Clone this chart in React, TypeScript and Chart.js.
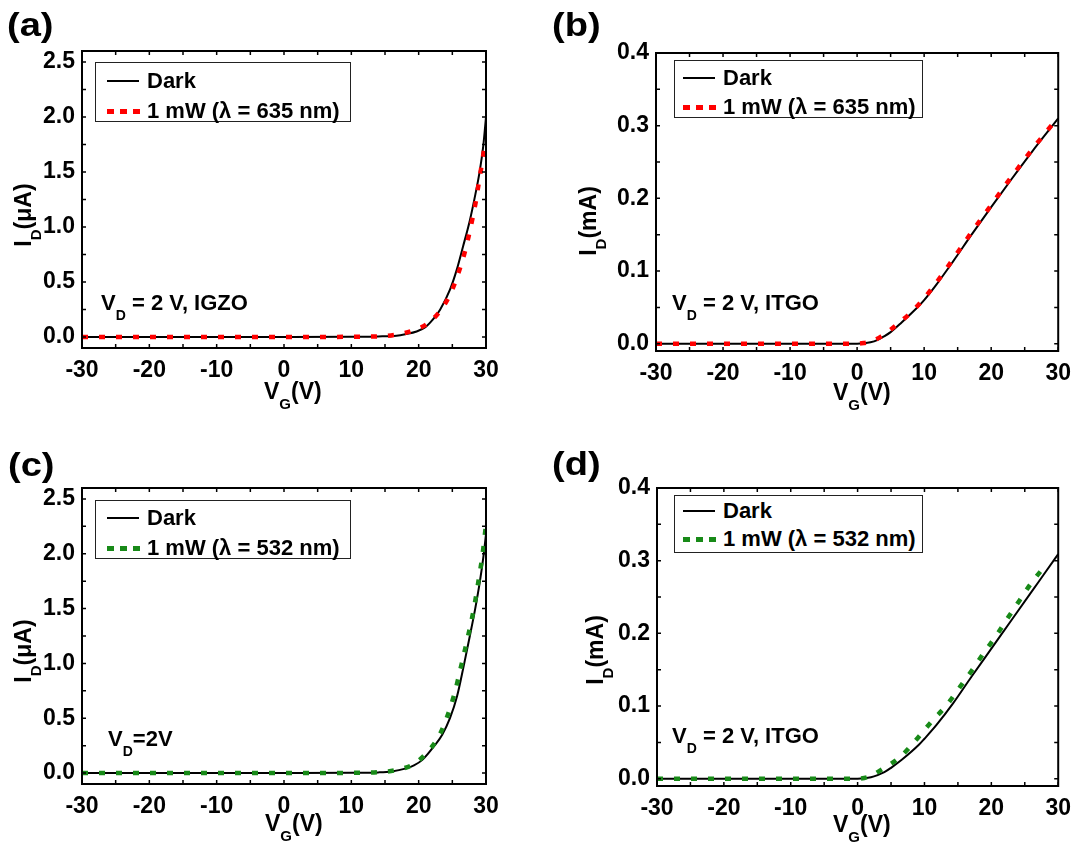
import React, { useEffect, useRef } from "react";
import { Chart, registerables } from "chart.js";

Chart.register(...registerables);

const FONT = '"Liberation Sans", Arial, Helvetica, sans-serif';

// ---------- tick values / labels ----------
const vgTicks = [-30, -20, -10, 0, 10, 20, 30];
const vgTickLabels = ["-30", "-20", "-10", "0", "10", "20", "30"];
const uaTicks = [0, 0.5, 1.0, 1.5, 2.0, 2.5];
const uaTickLabels = ["0.0", "0.5", "1.0", "1.5", "2.0", "2.5"];
const maTicks = [0, 0.1, 0.2, 0.3, 0.4];
const maTickLabels = ["0.0", "0.1", "0.2", "0.3", "0.4"];

// ---------- (a) IGZO, 635 nm ----------
const aDarkVg = [-30, -20, -10, 0, 10, 14, 16.7, 18, 19.7, 21, 21.7, 23.2, 24.65, 25.65, 26.6, 27.6, 28.3, 29.1, 29.6, 30];
const aDarkId = [0, 0, 0, 0, 0.002, 0.005, 0.012, 0.025, 0.05, 0.09, 0.13, 0.25, 0.43, 0.61, 0.825, 1.06, 1.26, 1.52, 1.74, 2.0];
const aRedVg = [-30, -20, -10, 0, 10, 14, 16.5, 19.1, 21.7, 23.8, 25.05, 26.0, 26.8, 27.4, 28.0, 28.5, 28.9, 29.35, 29.8];
const aRedId = [0, 0, 0, 0, 0.002, 0.006, 0.02, 0.057, 0.14, 0.29, 0.44, 0.6, 0.76, 0.91, 1.08, 1.235, 1.39, 1.56, 1.74];

// ---------- (b) ITGO, 635 nm ----------
const bDarkVg = [-30, -20, -10, -2, 0, 1, 2, 3, 4, 5, 6.6, 9.2, 10, 11.8, 14.3, 17, 20, 23, 26, 30];
const bDarkId = [0, 0, 0, 0, 0, 0.0005, 0.002, 0.005, 0.01, 0.016, 0.029, 0.052, 0.06, 0.081, 0.113, 0.149, 0.188, 0.226, 0.263, 0.31];
const bRedVg = [-30, -20, -10, -2, 0, 1, 2, 3.5, 6.3, 8.8, 11, 13.3, 15.4, 17.2, 19, 20.8, 22.5, 24.2, 26, 28, 29.5];
const bRedId = [0, 0, 0, 0, 0, 0.001, 0.003, 0.0095, 0.029, 0.05, 0.074, 0.103, 0.131, 0.155, 0.178, 0.201, 0.223, 0.244, 0.266, 0.289, 0.306];

// ---------- (c) IGZO, 532 nm ----------
const cDarkVg = [-30, -20, -10, 0, 10, 14, 16, 18, 19.3, 20.55, 22.35, 23.5, 24.65, 25.7, 26.7, 27.6, 28.4, 29.1, 29.67, 30];
const cDarkId = [0, 0, 0, 0, 0.002, 0.006, 0.015, 0.04, 0.07, 0.12, 0.25, 0.35, 0.5, 0.7, 0.98, 1.25, 1.5, 1.75, 2.0, 2.18];
const cGreenVg = [-30, -20, -10, 0, 10, 14, 16.5, 19.3, 21, 22.1, 23.2, 24.15, 25.3, 26.4, 27.3, 28.2, 28.9, 29.5, 29.95];
const cGreenId = [0, 0, 0, 0, 0.002, 0.008, 0.025, 0.082, 0.17, 0.25, 0.36, 0.5, 0.72, 1.0, 1.24, 1.5, 1.76, 2.0, 2.24];

// ---------- (d) ITGO, 532 nm ----------
const dDarkVg = [-30, -20, -10, -2, 0, 1, 2, 3, 4, 5, 6.6, 9.2, 10, 11.8, 14.3, 17, 20, 23, 26, 28, 30];
const dDarkId = [0, 0, 0, 0, 0, 0.0005, 0.002, 0.005, 0.009, 0.015, 0.026, 0.047, 0.055, 0.074, 0.104, 0.14, 0.179, 0.218, 0.257, 0.283, 0.309];
const dGreenVg = [-30, -20, -10, -2, 0, 1, 2, 3.56, 6.37, 8.8, 11, 13.3, 15.37, 17.17, 18.95, 20.75, 22.45, 24.2, 26.04, 28.05];
const dGreenId = [0, 0, 0, 0, 0, 0.001, 0.004, 0.0124, 0.03, 0.054, 0.078, 0.101, 0.127, 0.15, 0.174, 0.197, 0.221, 0.245, 0.27, 0.293];

const RED = "#ff0000";
const GREEN = "#188a18";

const pts = (xs: number[], ys: number[]) => xs.map((x, i) => ({ x, y: ys[i] }));

const mids = (vals: number[]) => {
  const out: number[] = [...vals];
  for (let i = 0; i < vals.length - 1; i++) out.push((vals[i] + vals[i + 1]) / 2);
  return out;
};

const framePlugin = {
  id: "frame",
  afterDatasetsDraw(chart: any, _args: any, opts: any) {
    const { ctx, chartArea: a, scales } = chart;
    const xs = scales.x;
    const ys = scales.y;
    const L = 4;
    ctx.save();
    ctx.strokeStyle = "#000";
    ctx.lineWidth = 1.5;
    ctx.beginPath();
    for (const v of opts.xMarks as number[]) {
      const p = xs.getPixelForValue(v);
      ctx.moveTo(p, a.bottom);
      ctx.lineTo(p, a.bottom - L);
      ctx.moveTo(p, a.top);
      ctx.lineTo(p, a.top + L);
    }
    for (const v of opts.yMarks as number[]) {
      const p = ys.getPixelForValue(v);
      ctx.moveTo(a.left, p);
      ctx.lineTo(a.left + L, p);
      ctx.moveTo(a.right, p);
      ctx.lineTo(a.right - L, p);
    }
    ctx.stroke();
    ctx.lineWidth = 2;
    ctx.strokeRect(a.left, a.top, a.right - a.left, a.bottom - a.top);
    ctx.restore();
  },
};

type PanelCfg = {
  left: number;
  top: number;
  w: number;
  h: number;
  pad: { left: number; right: number; top: number; bottom: number };
  yMin: number;
  yMax: number;
  yTicks: number[];
  yLabels: string[];
  darkX: number[];
  darkY: number[];
  litX: number[];
  litY: number[];
  color: string;
};

function Panel({ cfg }: { cfg: PanelCfg }) {
  const ref = useRef<HTMLCanvasElement>(null);
  useEffect(() => {
    const tickFont = { family: FONT, size: 23, weight: "bold" as const };
    const chart = new Chart(ref.current as HTMLCanvasElement, {
      type: "line",
      data: {
        datasets: [
          {
            label: "Dark",
            data: pts(cfg.darkX, cfg.darkY),
            borderColor: "#000",
            backgroundColor: "#000",
            borderWidth: 2,
            pointRadius: 0,
            cubicInterpolationMode: "monotone",
            fill: false,
            order: 2,
          },
          {
            label: "1 mW",
            data: pts(cfg.litX, cfg.litY),
            borderColor: cfg.color,
            backgroundColor: cfg.color,
            borderWidth: 4.5,
            borderDash: [6, 11],
            borderCapStyle: "butt",
            pointRadius: 0,
            cubicInterpolationMode: "monotone",
            fill: false,
            order: 1,
          },
        ],
      },
      options: {
        responsive: false,
        animation: false,
        devicePixelRatio: 1,
        events: [],
        layout: { padding: cfg.pad },
        plugins: {
          legend: { display: false },
          tooltip: { enabled: false },
          // @ts-ignore
          frame: { xMarks: mids(vgTicks), yMarks: mids(cfg.yTicks) },
        },
        scales: {
          x: {
            type: "linear",
            position: "bottom",
            min: -30,
            max: 30,
            grid: { display: false, drawTicks: false },
            border: { display: false },
            ticks: {
              color: "#000",
              font: tickFont,
              padding: 9,
              autoSkip: false,
              maxRotation: 0,
              callback: (v: any) => {
                const i = vgTicks.indexOf(Number(v));
                return i >= 0 ? vgTickLabels[i] : "";
              },
            },
            afterBuildTicks: (s: any) => {
              s.ticks = vgTicks.map((v) => ({ value: v }));
            },
            afterFit: (s: any) => {
              s.height = 40;
            },
          },
          y: {
            type: "linear",
            position: "left",
            min: cfg.yMin,
            max: cfg.yMax,
            grid: { display: false, drawTicks: false },
            border: { display: false },
            ticks: {
              color: "#000",
              font: tickFont,
              padding: 7,
              autoSkip: false,
              callback: (v: any) => {
                const n = Number(v);
                const i = cfg.yTicks.findIndex((t) => Math.abs(t - n) < 1e-9);
                return i >= 0 ? cfg.yLabels[i] : "";
              },
            },
            afterBuildTicks: (s: any) => {
              s.ticks = cfg.yTicks.map((v) => ({ value: v }));
            },
            afterFit: (s: any) => {
              s.width = 70;
            },
          },
        },
      },
      plugins: [framePlugin as any],
    });
    return () => chart.destroy();
  }, []);
  return (
    <canvas
      ref={ref}
      width={cfg.w}
      height={cfg.h}
      style={{ position: "absolute", left: cfg.left, top: cfg.top, width: cfg.w, height: cfg.h }}
    />
  );
}

const panels: PanelCfg[] = [
  {
    left: 0, top: 0, w: 540, h: 421,
    pad: { left: 12, right: 54, top: 51, bottom: 33 },
    yMin: -0.1, yMax: 2.6, yTicks: uaTicks, yLabels: uaTickLabels,
    darkX: aDarkVg, darkY: aDarkId, litX: aRedVg, litY: aRedId, color: RED,
  },
  {
    left: 540, top: 0, w: 540, h: 421,
    pad: { left: 46, right: 21, top: 53, bottom: 30 },
    yMin: -0.01, yMax: 0.4, yTicks: maTicks, yLabels: maTickLabels,
    darkX: bDarkVg, darkY: bDarkId, litX: bRedVg, litY: bRedId, color: RED,
  },
  {
    left: 0, top: 421, w: 540, h: 422,
    pad: { left: 12, right: 54, top: 67, bottom: 19 },
    yMin: -0.1, yMax: 2.6, yTicks: uaTicks, yLabels: uaTickLabels,
    darkX: cDarkVg, darkY: cDarkId, litX: cGreenVg, litY: cGreenId, color: GREEN,
  },
  {
    left: 540, top: 421, w: 540, h: 422,
    pad: { left: 47, right: 21, top: 67, bottom: 17 },
    yMin: -0.01, yMax: 0.4, yTicks: maTicks, yLabels: maTickLabels,
    darkX: dDarkVg, darkY: dDarkId, litX: dGreenVg, litY: dGreenId, color: GREEN,
  },
];

const txt: React.CSSProperties = {
  position: "absolute",
  fontFamily: FONT,
  fontWeight: "bold",
  fontSize: 22,
  lineHeight: "22px",
  color: "#000",
  whiteSpace: "nowrap",
};

const Sub = ({ c, size = 15, drop = 10 }: { c: string; size?: number; drop?: number }) => (
  <span style={{ fontSize: size, position: "relative", top: drop }}>{c}</span>
);

function Legend({ left, top, width, height, sx, tx, r1, r2, color, lam }: any) {
  return (
    <div
      style={{
        position: "absolute", left, top, width, height, boxSizing: "border-box",
        border: "1px solid #222", background: "#fff",
      }}
    >
      <div style={{ position: "absolute", left: sx, top: r1 - 1, width: 32, height: 2, background: "#000" }} />
      <div style={{ ...txt, left: tx, top: r1 - 11 }}>Dark</div>
      <div
        style={{
          position: "absolute", left: sx, top: r2 - 2.5, width: 33, height: 5,
          background: `repeating-linear-gradient(to right, ${color} 0px, ${color} 7px, transparent 7px, transparent 13px)`,
        }}
      />
      <div style={{ ...txt, left: tx, top: r2 - 11 }}>{`1 mW (λ = ${lam} nm)`}</div>
    </div>
  );
}

function YTitle({ cx, cy, unit }: { cx: number; cy: number; unit: string }) {
  return (
    <div
      style={{
        ...txt, fontSize: 23, left: cx - 100, top: cy - 11, width: 200, height: 22, textAlign: "center",
        transform: "rotate(-90deg)",
      }}
    >
      I<Sub c="D" />({unit})
    </div>
  );
}

function XTitle({ left, top }: { left: number; top: number }) {
  return (
    <div style={{ ...txt, fontSize: 23, left, top }}>
      V<Sub c="G" />(V)
    </div>
  );
}

function Letter({ left, top, c }: { left: number; top: number; c: string }) {
  return (
    <div
      style={{
        ...txt, left, top, fontSize: 34, lineHeight: "34px",
        transform: "scaleX(1.12)", transformOrigin: "left center",
      }}
    >
      {c}
    </div>
  );
}

export default function App() {
  return (
    <div style={{ position: "absolute", left: 0, top: 0, width: 1080, height: 843, background: "#fff", overflow: "hidden" }}>
      {panels.map((p, i) => (
        <Panel key={i} cfg={p} />
      ))}

      <Letter left={7} top={7} c="(a)" />
      <Letter left={552} top={7} c="(b)" />
      <Letter left={8} top={447} c="(c)" />
      <Letter left={552} top={446} c="(d)" />

      <Legend left={95} top={62} width={256} height={60} sx={11} tx={51} r1={18} r2={48} color={RED} lam="635" />
      <Legend left={674} top={60} width={249} height={58} sx={8} tx={48} r1={17} r2={46} color={RED} lam="635" />
      <Legend left={95} top={500} width={256} height={59} sx={11} tx={51} r1={17} r2={47} color={GREEN} lam="532" />
      <Legend left={674} top={495} width={249} height={58} sx={8} tx={48} r1={15} r2={43} color={GREEN} lam="532" />

      <div style={{ ...txt, left: 101, top: 291.5 }}>
        V<Sub c="D" size={14} drop={10} /> = 2 V, IGZO
      </div>
      <div style={{ ...txt, left: 672, top: 292 }}>
        V<Sub c="D" size={14} drop={10} /> = 2 V, ITGO
      </div>
      <div style={{ ...txt, left: 108, top: 727.5 }}>
        V<Sub c="D" size={14} drop={10} />=2V
      </div>
      <div style={{ ...txt, left: 672, top: 724.5 }}>
        V<Sub c="D" size={14} drop={10} /> = 2 V, ITGO
      </div>

      <YTitle cx={23} cy={215} unit="μA" />
      <YTitle cx={588} cy={221} unit="mA" />
      <YTitle cx={23} cy={651} unit="μA" />
      <YTitle cx={595} cy={650} unit="mA" />

      <XTitle left={264} top={379.5} />
      <XTitle left={833} top={380.5} />
      <XTitle left={265} top={811.5} />
      <XTitle left={833} top={813} />
    </div>
  );
}
